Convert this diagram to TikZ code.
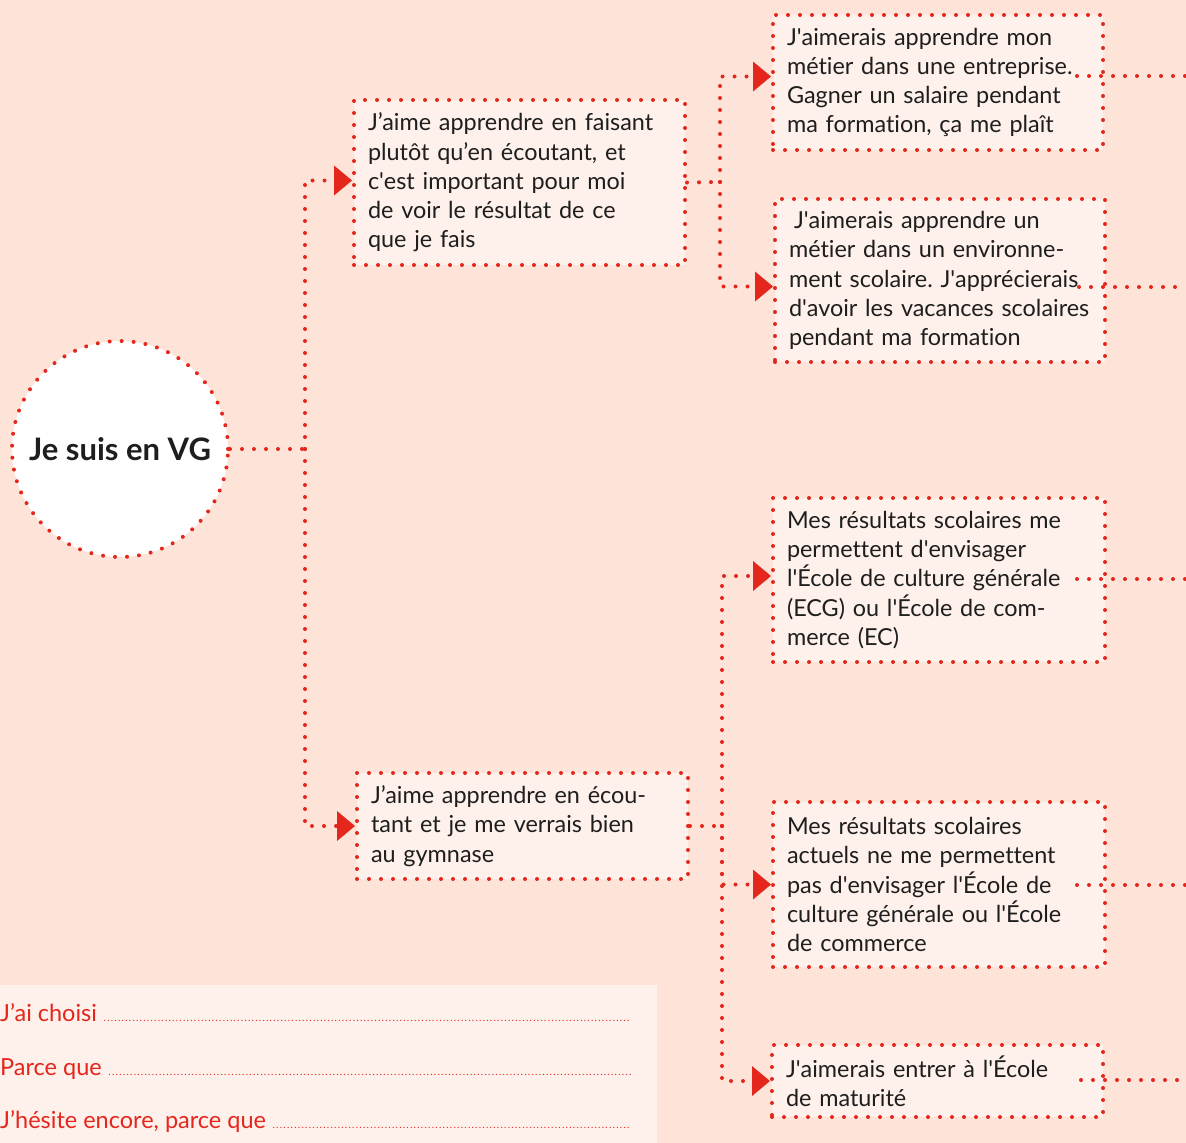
\documentclass[tikz,border=0pt]{standalone}
\usepackage{fontspec}
\setmainfont{Lato}[Ligatures={TeX,NoCommon}]
\usetikzlibrary{arrows.meta,calc}
\definecolor{bg}{HTML}{FDE3D8}
\definecolor{boxfill}{HTML}{FEF0EB}
\definecolor{rd}{HTML}{E4261C}
\definecolor{ink}{HTML}{1E1E1E}
\newcommand{\sq}{\textquotesingle}
\newcommand{\lead}{\xleaders\hbox to 3.6pt{\hss\fontsize{10}{10}\selectfont.\hss}\hfill}
\frenchspacing
\begin{document}
\begin{tikzpicture}[x=1pt,y=-1pt,
  dotline/.style={draw=rd, line width=4pt, line cap=round, dash pattern=on 0pt off 12pt},
  arr/.style={-{Triangle[length=18pt,width=30pt,line width=0pt,fill=rd,color=rd]}},
  box/.style={dotline, fill=boxfill, inner xsep=14pt, inner ysep=0pt, align=left,
    font=\fontsize{23.4}{29.3}\selectfont, text=ink},
  formtext/.style={inner sep=0pt, anchor=base west, text=rd, font=\fontsize{23.5}{26}\selectfont},
  hub/.style={circle, dotline, fill=white, minimum size=216pt, inner sep=0pt, text=ink,
    font=\fontsize{31}{34}\selectfont\bfseries}
]
\useasboundingbox[fill=bg] (0,0) rectangle (1186,1143);

% circle
\node[hub] (c) at (120,449) {Je suis en VG};

% second level
\node[box, minimum width=331pt, minimum height=165pt, text width=303pt] (A) at (519.5,182.5)
 {\mbox{J’aime apprendre en faisant}\\\mbox{plutôt qu’en écoutant, et}\\\mbox{c\sq est important pour moi}\\\mbox{de voir le résultat de ce}\\que je fais};
\node[box, minimum width=331pt, minimum height=106pt, text width=303pt] (B) at (522.5,826)
 {\mbox{J’aime apprendre en écou-}\\\mbox{tant et je me verrais bien}\\au gymnase};

% third level
\node[box, minimum width=330pt, minimum height=135pt, text width=302pt] (R1) at (938,82.5)
 {\mbox{J\sq aimerais apprendre mon}\\\mbox{métier dans une entreprise.}\\\mbox{Gagner un salaire pendant}\\\mbox{ma formation, ça me plaît}};
\node[box, minimum width=330pt, minimum height=163pt, text width=302pt] (R2) at (940,280.5)
 {\hspace{5pt}\mbox{J\sq aimerais apprendre un}\\\mbox{métier dans un environne-}\\\mbox{ment scolaire. J\sq apprécierais}\\\mbox{d\sq avoir les vacances scolaires}\\\mbox{pendant ma formation}};
\node[box, minimum width=332pt, minimum height=164pt, text width=304pt] (R3) at (939,580)
 {\mbox{Mes résultats scolaires me}\\\mbox{permettent d\sq envisager}\\\mbox{l\sq École de culture générale}\\\mbox{(ECG) ou l\sq École de com-}\\merce (EC)};
\node[box, minimum width=332pt, minimum height=165pt, text width=304pt] (R4) at (939,884.5)
 {\mbox{Mes résultats scolaires}\\\mbox{actuels ne me permettent}\\\mbox{pas d\sq envisager l\sq École de}\\\mbox{culture générale ou l\sq École}\\de commerce};
\node[box, minimum width=331pt, minimum height=72pt, text width=303pt] (R5) at (937.5,1081)
 {\mbox{J\sq aimerais entrer à l\sq École}\\de maturité};

% junctions
\coordinate (j0) at (305,449);
\coordinate (j1) at (720,182);
\coordinate (j2) at (722,826);

\draw[dotline] (c.east) -- (j0);
\draw[dotline,arr] (j0) |- ([yshift=2pt]A.west);
\draw[dotline,arr] (j0) |- (B.west);

\draw[dotline] (A.east) -- (j1);
\draw[dotline,arr] (j1) |- ([yshift=6pt]R1.west);
\draw[dotline,arr] (j1) |- ([yshift=-6pt]R2.west);

\draw[dotline] (B.east) -- (j2);
\draw[dotline,arr] (j2) |- ([yshift=4pt]R3.west);
\draw[dotline,arr] (j2) |- (R4.west);
\draw[dotline,arr] (j2) |- (R5.west);

% outgoing lines to the right edge
\coordinate (e1) at (1186,76);
\coordinate (e2) at (1186,287);
\coordinate (e3) at (1186,579);
\coordinate (e4) at (1186,885);
\coordinate (e5) at (1186,1080);
\draw[dotline] ([xshift=-28pt]R1.east|-e1) -- (e1);
\draw[dotline] ([xshift=-28pt]R2.east|-e2) -- (e2);
\draw[dotline] ([xshift=-30pt]R3.east|-e3) -- (e3);
\draw[dotline] ([xshift=-30pt]R4.east|-e4) -- (e4);
\draw[dotline] ([xshift=-24pt]R5.east|-e5) -- (e5);

% form panel
\node[fill=boxfill, minimum width=657pt, minimum height=158pt, inner sep=0pt, anchor=north west] (form) at (0,985) {};
\node[formtext] (f1) at (0,1021) {\makebox[630pt][l]{J’ai choisi \lead}};
\node[formtext] (f2) at (0,1075) {\makebox[632pt][l]{Parce que \lead}};
\node[formtext] (f3) at (0,1128) {\makebox[630pt][l]{J’hésite encore, parce que \lead}};
\end{tikzpicture}
\end{document}
